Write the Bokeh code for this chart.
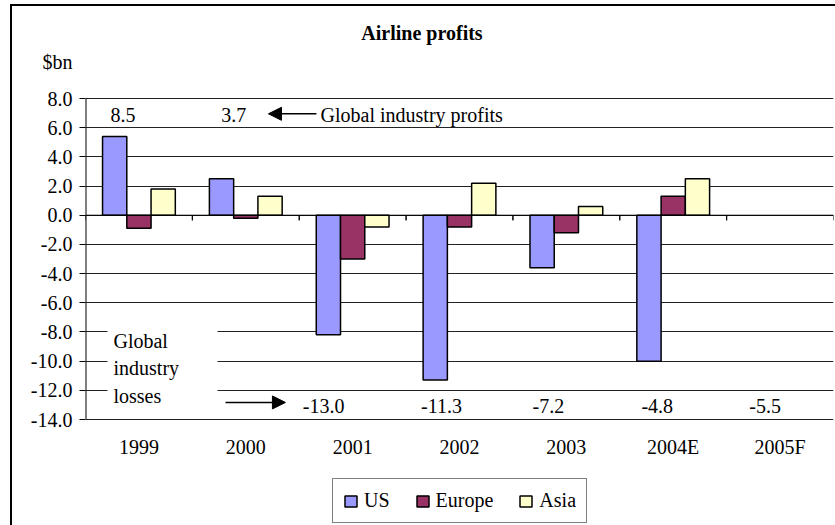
from bokeh.plotting import figure
from bokeh.models import (ColumnDataSource, FactorRange, Range1d, FixedTicker,
                          NumeralTickFormatter, Legend, LegendItem, Label, Arrow,
                          NormalHead, BoxAnnotation, Span)
from bokeh.transform import dodge
from bokeh.core.properties import value
from bokeh.embed import file_html
from bokeh.resources import INLINE

# ---- data ----
years = ["1999", "2000", "2001", "2002", "2003", "2004E", "2005F"]
us = [5.4, 2.5, -8.2, -11.3, -3.6, -10.0, None]
europe = [-0.9, -0.2, -3.0, -0.8, -1.2, 1.3, None]
asia = [1.8, 1.3, -0.8, 2.2, 0.6, 2.5, None]
global_profits = [8.5, 3.7, -13.0, -11.3, -7.2, -4.8, -5.5]
y_ticks = [-14, -12, -10, -8, -6, -4, -2, 0, 2, 4, 6, 8]
Y_MIN, Y_MAX = -14, 8

# ---- layout / styles ----
W, H = 835, 525
PLOT_TOP, PLOT_BOTTOM = 98, 419           # pixel rows of 8.0 and -14.0
PX = (PLOT_BOTTOM - PLOT_TOP) / (Y_MAX - Y_MIN)
y_hi = Y_MAX + PLOT_TOP / PX
y_lo = Y_MIN - (H - PLOT_BOTTOM) / PX
unit_y = Y_MAX + (PLOT_TOP - 61) / PX      # row of the "$bn" unit label

FONT = "Liberation Serif"
FS = "20px"
label_dx = [-16, -12, -29, -18, -18, -16, -15]
C_US, C_EU, C_AS = "#9999FF", "#993366", "#FFFFCC"

idx = [i for i in range(len(years)) if us[i] is not None]
bar_src = ColumnDataSource(dict(
    year=[years[i] for i in idx],
    us=[us[i] for i in idx],
    europe=[europe[i] for i in idx],
    asia=[asia[i] for i in idx],
))
lab_src = ColumnDataSource(dict(
    year=years,
    txt=["%.1f" % v for v in global_profits],
    ly=[6.9 if v > 0 else -13.1 for v in global_profits],
    dx=label_dx,
))
tick_src = ColumnDataSource(dict(year=years, y0=[0] * len(years), y1=[-0.35] * len(years)))
axis_src = ColumnDataSource(dict(year=[years[0]], y0=[Y_MIN], y1=[Y_MAX]))

p = figure(width=W, height=H, x_range=FactorRange(factors=years),
           y_range=Range1d(y_lo, y_hi), output_backend="svg", toolbar_location=None,
           title=None, min_border_left=85, min_border_right=2, min_border_top=0,
           min_border_bottom=0)
p.background_fill_color = None
p.border_fill_color = None
p.outline_line_color = None
# outer chart border (left and top edges), drawn behind the transparent canvas
p.styles = {
    "background-color": "white",
    "background-image": "linear-gradient(#000,#000), linear-gradient(#000,#000)",
    "background-size": "2px 100%, 100% 2px",
    "background-position": "10px 4px, 10px 4px",
    "background-repeat": "no-repeat",
}

# grid
p.xgrid.grid_line_color = None
p.ygrid.ticker = FixedTicker(ticks=y_ticks)
p.ygrid.grid_line_color = "#222222"
p.ygrid.grid_line_width = 1

# y axis: value labels + unit label, minor ticks as the tick marks
p.yaxis.ticker = FixedTicker(ticks=y_ticks + [unit_y], minor_ticks=y_ticks)
p.yaxis.formatter = NumeralTickFormatter(format="0.0")
p.yaxis.major_label_overrides = {unit_y: "$bn"}
p.yaxis.major_label_text_font = FONT
p.yaxis.major_label_text_font_size = FS
p.yaxis.major_label_text_color = "black"
p.yaxis.axis_line_color = None
p.yaxis.major_tick_line_color = None
p.yaxis.major_tick_in = 0
p.yaxis.major_tick_out = 0
p.yaxis.minor_tick_line_color = "black"
p.yaxis.minor_tick_in = 0
p.yaxis.minor_tick_out = 6
p.yaxis.major_label_standoff = 7
# y axis line limited to the value span
p.segment(x0=dodge("year", -0.5, range=p.x_range), y0="y0",
          x1=dodge("year", -0.5, range=p.x_range), y1="y1",
          source=axis_src, line_color="black", line_width=2)

# x axis (labels only) fixed at the bottom of the value span
p.xaxis.fixed_location = Y_MIN
p.xaxis.axis_line_color = None
p.xaxis.major_tick_line_color = None
p.xaxis.major_tick_out = 0
p.xaxis.major_tick_in = 0
p.xaxis.major_label_text_font = FONT
p.xaxis.major_label_text_font_size = FS
p.xaxis.major_label_text_color = "black"
p.xaxis.major_label_standoff = 16

# zero line + boundary ticks
p.add_layout(Span(location=0, dimension="width", line_color="black", line_width=1))
for d in (-0.5, 0.5):
    p.segment(x0=dodge("year", d, range=p.x_range), y0="y0",
              x1=dodge("year", d, range=p.x_range), y1="y1",
              source=tick_src, line_color="black", line_width=1)

# bars
bw = 0.227
r_us = p.vbar(x=dodge("year", -bw, range=p.x_range), top="us", width=bw,
              source=bar_src, fill_color=C_US, line_color="black", line_width=1.5)
r_eu = p.vbar(x=dodge("year", 0, range=p.x_range), top="europe", width=bw,
              source=bar_src, fill_color=C_EU, line_color="black", line_width=1.5)
r_as = p.vbar(x=dodge("year", bw, range=p.x_range), top="asia", width=bw,
              source=bar_src, fill_color=C_AS, line_color="black", line_width=1.5)

# white box behind "Global industry losses"
p.add_layout(BoxAnnotation(left=0.206, right=1.235, top=-7.4, bottom=-13.4,
                           fill_color="white", fill_alpha=1, line_color=None,
                           level="underlay"))

# global industry values
p.text(x="year", y="ly", text="txt", x_offset="dx", source=lab_src,
       text_font=value(FONT), text_font_size=FS, text_color="black",
       text_align="center", text_baseline="middle")

# annotations
for txt, yy in (("Global", -8.59), ("industry", -10.48), ("losses", -12.37)):
    p.text(x=[0.262], y=[yy], text=[txt], text_font=value(FONT), text_font_size=FS,
           text_color="black", text_align="left", text_baseline="middle")
p.text(x=[2.20], y=[6.9], text=["Global industry profits"], text_font=value(FONT),
       text_font_size=FS, text_color="black", text_align="left", text_baseline="middle")

p.add_layout(Arrow(end=NormalHead(size=13, fill_color="black", line_color="black"),
                   x_start=2.161, y_start=6.95, x_end=1.712, y_end=6.95,
                   line_color="black", line_width=1.5))
p.add_layout(Arrow(end=NormalHead(size=13, fill_color="black", line_color="black"),
                   x_start=1.31, y_start=-12.83, x_end=1.871, y_end=-12.83,
                   line_color="black", line_width=1.5))

# chart title
p.add_layout(Label(x=3.149, y=Y_MAX + (PLOT_TOP - 32) / PX, text="Airline profits",
                   text_font=FONT, text_font_size="20px", text_font_style="bold",
                   text_color="black", text_align="center", text_baseline="middle"))

# legend
legend = Legend(items=[LegendItem(label="US", renderers=[r_us]),
                       LegendItem(label="Europe", renderers=[r_eu]),
                       LegendItem(label="Asia", renderers=[r_as])],
                orientation="horizontal", location=(247, 2),
                label_text_font=FONT, label_text_font_size=FS, label_text_color="black",
                glyph_width=15, glyph_height=14, label_standoff=6, spacing=25,
                padding=10, margin=0, border_line_color="black", border_line_width=1,
                background_fill_color="white", background_fill_alpha=1)
p.add_layout(legend, "center")

open("out.html", "w").write(file_html(p, INLINE))
